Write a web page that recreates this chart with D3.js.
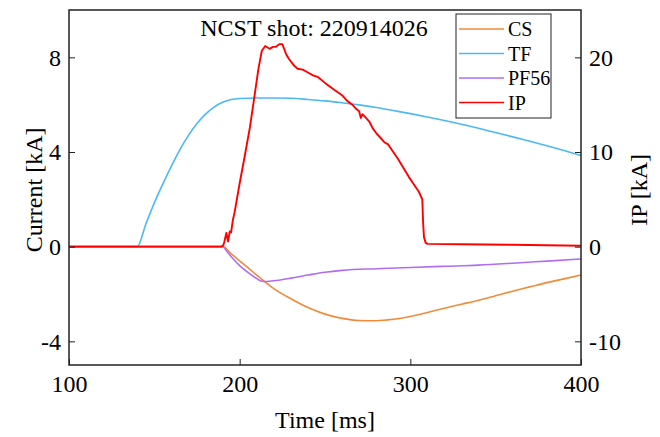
<!DOCTYPE html>
<html>

<head>
    <script src="https://cdn.jsdelivr.net/npm/d3@7"></script>
    <style>
        body { margin: 0; background: #fff; }
        text { font-family: "Liberation Serif", "Times New Roman", serif; fill: #000; }
    </style>
</head>

<body>
    <svg width="660" height="437"></svg>
    <script>
        // Values (time in ms, currents in kA)
        const csTime = [100, 190, 195, 200, 205, 210, 215, 220, 230, 240, 250, 260, 270, 280, 290, 300, 310, 320, 330, 340, 350, 360, 370, 380, 390, 400];
        const csValue = [0, 0, -0.3, -0.6, -0.9, -1.2, -1.5, -1.77, -2.2, -2.57, -2.85, -3.03, -3.12, -3.13, -3.07, -2.95, -2.78, -2.6, -2.43, -2.26, -2.07, -1.88, -1.7, -1.52, -1.36, -1.2];

        const tfTime = [100, 140, 145, 150, 155, 160, 165, 170, 175, 180, 185, 190, 195, 200, 210, 220, 230, 240, 250, 260, 270, 280, 290, 300, 310, 320, 330, 340, 350, 360, 370, 380, 390, 400];
        const tfValue = [0, 0, 0.95, 1.85, 2.65, 3.4, 4.1, 4.7, 5.2, 5.6, 5.9, 6.1, 6.22, 6.26, 6.28, 6.28, 6.27, 6.22, 6.16, 6.08, 5.99, 5.88, 5.75, 5.62, 5.48, 5.33, 5.17, 5.0, 4.82, 4.64, 4.45, 4.26, 4.06, 3.85];

        const pfTime = [100, 190, 193, 196, 200, 205, 210, 213, 216, 220, 230, 240, 250, 260, 280, 300, 320, 340, 360, 380, 400];
        const pfValue = [0, 0, -0.25, -0.5, -0.8, -1.1, -1.35, -1.46, -1.47, -1.44, -1.33, -1.2, -1.08, -1.0, -0.93, -0.88, -0.83, -0.78, -0.7, -0.61, -0.52];

        const ipTime = [100, 189, 190.3, 191, 192.2, 193.2, 194.2, 195, 196, 197, 200, 203, 206, 209, 211, 213, 215, 217.5, 219.5, 221, 223.4, 225, 227.3, 229, 232, 234, 237, 240, 243, 246, 250, 253, 256, 260, 263, 266, 268, 270, 271, 272, 274, 276, 278, 280, 283, 285, 287, 290, 293, 296, 299, 302, 305, 307, 307.5, 308, 309, 310, 330, 360, 380, 400];
        const ipValue = [0, 0, 0.1, 0.5, 1.45, 0.55, 1.6, 1.5, 2.8, 3.6, 6.7, 9.6, 12.6, 16.3, 18.8, 20.7, 21.2, 20.9, 21.1, 21.1, 21.4, 21.4, 20.3, 19.8, 19.1, 18.8, 18.7, 18.4, 18.1, 17.9, 17.3, 16.9, 16.5, 16.0, 15.4, 15.0, 14.6, 14.3, 13.6, 14.0, 13.6, 13.2, 12.5, 12.0, 11.4, 11.0, 10.8, 10.0, 9.2, 8.3, 7.4, 6.6, 5.8, 5.0, 2.5, 1.0, 0.4, 0.3, 0.25, 0.2, 0.15, 0.1];

        const xTicks = [100, 200, 300, 400];
        const leftTicks = [-4, 0, 4, 8];
        const rightTicks = [-10, 0, 10, 20];

        const series = [
            { name: "CS", t: csTime, v: csValue, color: "#f28a3a", axis: "left", width: 1.6, smooth: true },
            { name: "TF", t: tfTime, v: tfValue, color: "#4cb8f5", axis: "left", width: 1.6, smooth: true },
            { name: "PF56", t: pfTime, v: pfValue, color: "#b26cf2", axis: "left", width: 1.6, smooth: true },
            { name: "IP", t: ipTime, v: ipValue, color: "#ff0000", axis: "right", width: 1.9, smooth: false }
        ];

        const svg = d3.select("svg");
        const margin = { top: 10, right: 79, bottom: 72, left: 69 };
        const width = +svg.attr("width") - margin.left - margin.right;
        const height = +svg.attr("height") - margin.top - margin.bottom;

        const x = d3.scaleLinear().domain([100, 400]).range([0, width]);
        const yL = d3.scaleLinear().domain([-5, 10]).range([height, 0]);
        const yR = d3.scaleLinear().domain([-12.5, 25]).range([height, 0]);

        const g = svg.append("g")
            .attr("transform", `translate(${margin.left},${margin.top})`);

        // lines
        series.forEach(s => {
            const y = s.axis === "left" ? yL : yR;
            const line = d3.line()
                .x((d, i) => x(s.t[i]))
                .y(d => y(d))
                .curve(s.smooth ? d3.curveMonotoneX : d3.curveLinear);
            g.append("path")
                .datum(s.v)
                .attr("fill", "none")
                .attr("stroke", s.color)
                .attr("stroke-width", s.width)
                .attr("stroke-linejoin", "round")
                .attr("d", line);
        });

        // axes, ticks pointing inward
        const fmt = d => String(d);
        const xAxis = g.append("g")
            .attr("transform", `translate(0,${height})`)
            .call(d3.axisBottom(x).tickValues(xTicks).tickFormat(fmt).tickSizeInner(-6).tickSizeOuter(0).tickPadding(10));
        const lAxis = g.append("g")
            .call(d3.axisLeft(yL).tickValues(leftTicks).tickFormat(fmt).tickSizeInner(-6).tickSizeOuter(0).tickPadding(8));
        const rAxis = g.append("g")
            .attr("transform", `translate(${width},0)`)
            .call(d3.axisRight(yR).tickValues(rightTicks).tickFormat(fmt).tickSizeInner(-6).tickSizeOuter(0).tickPadding(8));

        [xAxis, lAxis, rAxis].forEach(a => {
            a.selectAll("text").style("font-size", "24px").attr("fill", "#000");
            a.selectAll("line").attr("stroke", "#222");
            a.select(".domain").remove();
        });

        // frame
        g.append("rect")
            .attr("width", width)
            .attr("height", height)
            .attr("fill", "none")
            .attr("stroke", "#222")
            .attr("stroke-width", 1.5);

        // titles
        g.append("text")
            .attr("x", 245)
            .attr("y", 26)
            .attr("text-anchor", "middle")
            .style("font-size", "24px")
            .text("NCST shot: 220914026");

        svg.append("text")
            .attr("x", margin.left + width / 2)
            .attr("y", 428)
            .attr("text-anchor", "middle")
            .style("font-size", "24px")
            .text("Time [ms]");

        svg.append("text")
            .attr("transform", `translate(42,${margin.top + yL(2.4)}) rotate(-90)`)
            .attr("text-anchor", "middle")
            .style("font-size", "24px")
            .text("Current [kA]");

        svg.append("text")
            .attr("transform", `translate(647,${margin.top + yL(2.4)}) rotate(-90)`)
            .attr("text-anchor", "middle")
            .style("font-size", "24px")
            .text("IP [kA]");

        // legend
        const legend = svg.append("g").attr("transform", "translate(456,14)");
        legend.append("rect")
            .attr("width", 95)
            .attr("height", 104)
            .attr("fill", "#fff")
            .attr("stroke", "#222")
            .attr("stroke-width", 1);
        series.forEach((s, i) => {
            const row = legend.append("g").attr("transform", `translate(0,${15 + i * 24.5})`);
            row.append("line")
                .attr("x1", 3).attr("x2", 48)
                .attr("stroke", s.color)
                .attr("stroke-width", 1.6);
            row.append("text")
                .attr("x", 52)
                .attr("dy", "0.35em")
                .style("font-size", "20px")
                .text(s.name);
        });
    </script>
</body>

</html>
